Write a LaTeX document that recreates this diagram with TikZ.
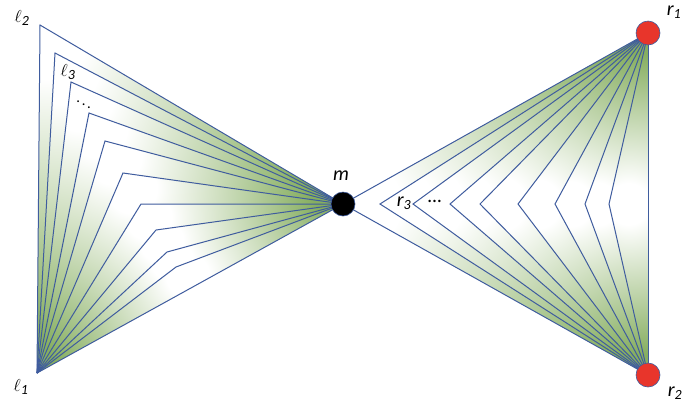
\documentclass[tikz,border=0pt]{standalone}
\usepackage{fontspec}
\setmainfont{Carlito}
\definecolor{wingedge}{HTML}{3F5C9E}
\definecolor{winggreen}{HTML}{86AE60}
\definecolor{hubred}{HTML}{E8352B}
\usetikzlibrary{calc}
\pgfdeclareradialshading{wingshade}{\pgfpoint{0bp}{0bp}}{%
  color(0bp)=(white); color(3bp)=(white); color(22bp)=(winggreen); color(50bp)=(winggreen)}

\begin{document}
\begin{tikzpicture}[x=1pt, y=-1pt,
  hub/.style={circle, draw=wingedge, line width=0.6pt, inner sep=0pt, minimum size=24pt},
  fold/.style={draw=wingedge, line width=1pt, line join=miter},
  lbl/.style={font=\fontsize{20}{22}\selectfont\itshape, inner sep=0pt},
]
\useasboundingbox (0,0) rectangle (684,408);

\coordinate (l1) at (37,373);
\coordinate (mc) at (343,204);
\coordinate (r1c) at (648,33);
\coordinate (r2c) at (648,375);

% corners of the left wing (a1 = l2), a11 lies on l1--m
\foreach \x/\y [count=\i] in {40/25, 55/53, 71/82, 89/113, 105/141, 123/173,
                              141/204, 156/230, 167/252, 176/267}
  \coordinate (a\i) at (\x,\y);
\coordinate (a11) at ($(l1)!0.53!(mc)$);

% corners of the right wing (b0 = m), b9 lies on r1--r2
\coordinate (b0) at (mc);
\foreach \x [count=\i] in {380, 413, 450, 480, 518, 555, 585, 609}
  \coordinate (b\i) at (\x,204);
\coordinate (b9) at (648,204);

% shaded strips
\foreach \i [evaluate=\i as \j using int(\i+1)] in {1,...,10}{
  \begin{scope}
    \clip (l1) -- (a\i) -- (mc) -- (a\j) -- cycle;
    \shade[shading=wingshade] let \p1=($(a\i)!0.5!(a\j)$), \p2=($(\p1)-(l1)$),
      \n1={veclen(\x2,\y2)} in (\p1) circle ({\n1});
  \end{scope}
}
\foreach \i [evaluate=\i as \j using int(\i+1)] in {0,...,8}{
  \begin{scope}
    \clip (r1c) -- (b\i) -- (r2c) -- (b\j) -- cycle;
    \shade[shading=wingshade] let \p1=($(b\i)!0.5!(b\j)$), \p2=($(\p1)-(r1c)$),
      \n1={veclen(\x2,\y2)} in (\p1) circle ({\n1});
  \end{scope}
}

% folded lines
\foreach \i in {1,...,10}
  \draw[fold] (l1) -- (a\i) -- (mc);
\draw[fold] (l1) -- (mc);
\foreach \i in {0,...,8}
  \draw[fold] (r1c) -- (b\i) -- (r2c);
\draw[fold] (r1c) -- (r2c);

\node[hub, fill=black] (m) at (mc) {};
\node[hub, fill=hubred] (r1) at (r1c) {};
\node[hub, fill=hubred] (r2) at (r2c) {};

\node[lbl] (lab-l2) at (22,18) {{\fontsize{19}{20}\selectfont\(\ell\)}\textsubscript{2}};
\node[lbl] (lab-l3) at (68,72) {{\fontsize{19}{20}\selectfont\(\ell\)}\textsubscript{3}};
\node[lbl] (lab-ld) at (84,102) {\fontsize{15}{16}\selectfont\(\ddots\)};
\node[lbl] (lab-l1) at (21,387) {{\fontsize{19}{20}\selectfont\(\ell\)}\textsubscript{1}};
\node[lbl] (lab-m) at (341,176) {m};
\node[lbl] (lab-r1) at (674,12) {r\textsubscript{1}};
\node[lbl] (lab-r2) at (675,393) {r\textsubscript{2}};
\node[lbl] (lab-r3) at (404,203) {r\textsubscript{3}};
\node[lbl] (lab-rd) at (435,201) {\ldots};
\end{tikzpicture}
\end{document}
